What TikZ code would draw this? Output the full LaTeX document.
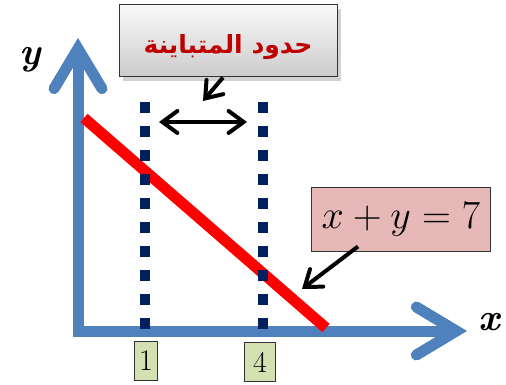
\RequirePackage{fix-cm}
\documentclass[tikz,border=0pt]{standalone}
\usepackage{fontspec}
\usepackage{xcolor}
\usetikzlibrary{arrows.meta,shadows}
\newfontfamily\arabicfont[Script=Arabic]{DejaVu Sans}
\TeXXeTstate=1
\definecolor{axisc}{HTML}{4F81BD}
\definecolor{linec}{HTML}{FF0000}
\definecolor{dotc}{HTML}{002060}
\definecolor{eqc}{HTML}{E6B9B8}
\definecolor{tickc}{HTML}{D2E0B2}
\definecolor{titlec}{HTML}{C00000}

\tikzset{
  axisline/.style={axisc, line width=11pt, line join=miter,
    {Straight Barb[length=40pt,width=48pt,line cap=round]}-{Straight Barb[length=40pt,width=48pt,line cap=round]}},
  bound/.style={dotc, line width=10pt, dash pattern=on 11pt off 13pt},
  pointer/.style={black, line width=4pt, -{Straight Barb[length=15pt,width=22pt,line cap=round]}},
  gap/.style={black, line width=4pt, {Straight Barb[length=15pt,width=22pt,line cap=round]}-{Straight Barb[length=15pt,width=22pt,line cap=round]}},
  tickbox/.style={draw=black!80, line width=1.3pt, fill=tickc, inner sep=0pt,
    minimum height=39pt, font=\fontsize{30}{32}\selectfont},
}

\begin{document}
\begin{tikzpicture}[x=1pt,y=-1pt]
  \useasboundingbox (0,0) rectangle (506,385);
  \fill[white] (0,0) rectangle (506,385);

  % ============================================================
  %                       AXES
  % ============================================================
  \draw[axisline] (78,38) -- (78,331) -- (467,331);
  \node[font=\fontsize{38}{40}\selectfont\bfseries\itshape] (ylab) at (30,60) {y};
  \node[font=\fontsize{38}{40}\selectfont\bfseries\itshape] (xlab) at (489,322) {x};

  % ============================================================
  %                       LINE  x + y = 7
  % ============================================================
  \draw[linec, line width=11pt] (84,118) -- (326,328);

  % ============================================================
  %                       BOUNDS (dotted)
  % ============================================================
  \coordinate (lowA) at (145,102);
  \coordinate (lowB) at (145,330);
  \coordinate (upA) at (263,102);
  \coordinate (upB) at (263,330);
  \draw[bound] (lowA) -- (lowB);
  \draw[bound] (upA) -- (upB);

  \node[tickbox, minimum width=23pt] (tick1) at (146,361) {1};
  \node[tickbox, minimum width=31pt] (tick4) at (260,362) {4};

  % ============================================================
  %                       LABELS
  % ============================================================
  \node[draw=black!80, line width=1pt, top color=gray!5, bottom color=gray!40,
    minimum width=218pt, minimum height=72pt,
    drop shadow={opacity=0.35, shadow xshift=4pt, shadow yshift=-4pt},
    font=\fontsize{25}{28}\selectfont\arabicfont\bfseries, text=titlec]
    (title) at (228,41) {\raisebox{-6pt}[\height][\depth]{\beginR حدود المتباينة\endR}};

  \node[draw=black!80, line width=1pt, fill=eqc,
    minimum width=179pt, minimum height=64pt,
    font=\fontsize{40}{44}\selectfont]
    (eq) at (401,219) {$x + y = 7$};

  % ============================================================
  %                       ARROWS
  % ============================================================
  \coordinate (titletip) at (203,101);
  \coordinate (gapL) at (159,122);
  \coordinate (gapR) at (247,122);
  \coordinate (eqtip) at (302,289);
  \draw[pointer] ([xshift=-5pt]title.south) -- (titletip);
  \draw[gap] (gapL) -- (gapR);
  \draw[pointer] ([xshift=-43pt,yshift=5pt]eq.south) -- (eqtip);

\end{tikzpicture}
\end{document}
